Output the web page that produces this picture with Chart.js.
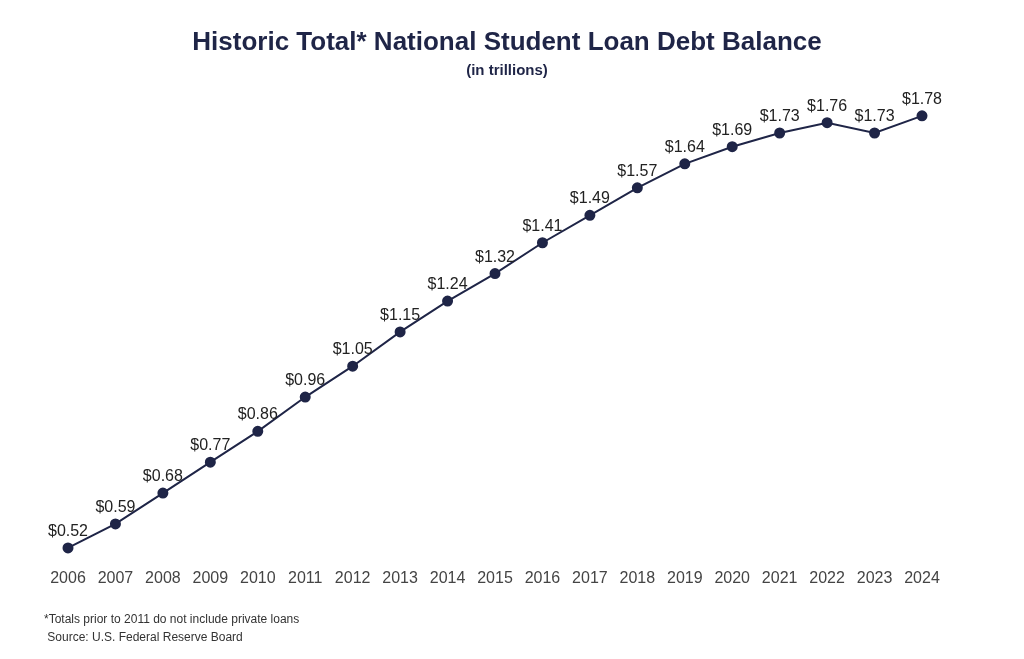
<!DOCTYPE html>
<html><head><meta charset="utf-8">
<script src="https://cdn.jsdelivr.net/npm/chart.js@4"></script>
<style>html,body{margin:0;background:#fff}#w{width:1024px;height:659px}</style>
</head><body><div id="w"><canvas id="c"></canvas></div>
<script>
const years = ['2006','2007','2008','2009','2010','2011','2012','2013','2014','2015','2016','2017','2018','2019','2020','2021','2022','2023','2024'];
const debt = [0.52,0.59,0.68,0.77,0.86,0.96,1.05,1.15,1.24,1.32,1.41,1.49,1.57,1.64,1.69,1.73,1.76,1.73,1.78];
const title = 'Historic Total* National Student Loan Debt Balance';
const subtitle = '(in trillions)';
const notes = ['*Totals prior to 2011 do not include private loans',' Source: U.S. Federal Reserve Board'];
const navy = '#1f2547';
const deco = {
  id:'deco',
  afterDatasetsDraw(ch){
    const ctx = ch.ctx; ctx.save();
    ctx.textAlign='center'; ctx.fillStyle=navy;
    ctx.font='bold 26px Arial, "Liberation Sans", sans-serif';
    ctx.fillText(title,507,50);
    ctx.font='bold 15px Arial, "Liberation Sans", sans-serif';
    ctx.fillText(subtitle,507,75);
    ctx.fillStyle='#222'; ctx.font='16px Arial, "Liberation Sans", sans-serif';
    const meta = ch.getDatasetMeta(0);
    meta.data.forEach((p,i)=>{ ctx.fillText('$'+debt[i].toFixed(2), p.x, p.y-12); });
    ctx.textAlign='left'; ctx.fillStyle='#333'; ctx.font='12px Arial, "Liberation Sans", sans-serif';
    ctx.fillText(notes[0],44,623); ctx.fillText(notes[1],44,641);
    ctx.restore();
  }
};
new Chart(document.getElementById('c'),{
  type:'line',
  data:{labels:years,datasets:[{data:debt,borderColor:navy,backgroundColor:navy,borderWidth:2,pointRadius:4.5,pointHoverRadius:4.5,tension:0}]},
  options:{responsive:true,maintainAspectRatio:false,animation:false,
    layout:{padding:{left:68,right:102,top:109,bottom:65}},
    plugins:{legend:{display:false},tooltip:{enabled:false}},
    scales:{
      y:{display:false,min:0.5,max:1.8},
      x:{offset:false,grid:{display:false},border:{display:false},
         ticks:{color:'#444',font:{size:16,family:'Arial, "Liberation Sans", sans-serif'},padding:6,maxRotation:0,autoSkip:false}}
    }},
  plugins:[deco]
});
</script></body></html>
